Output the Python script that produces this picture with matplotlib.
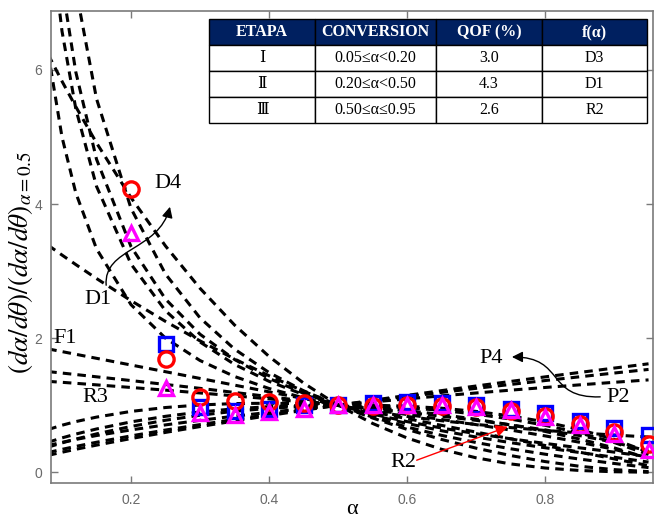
import matplotlib
matplotlib.use('Agg')
import matplotlib.pyplot as plt
from matplotlib.path import Path
from matplotlib.patches import FancyArrowPatch

plt.rcParams['mathtext.fontset'] = 'stix'

# ---------------- data ----------------
alpha_grid = [0.08, 0.10, 0.12, 0.15, 0.20, 0.25, 0.30, 0.35, 0.40, 0.45,
              0.50, 0.55, 0.60, 0.65, 0.70, 0.75, 0.80, 0.85, 0.90, 0.95]

F1 = [1.84, 1.80, 1.76, 1.70, 1.60, 1.50, 1.40, 1.30, 1.20, 1.10,
      1.00, 0.90, 0.80, 0.70, 0.60, 0.50, 0.40, 0.30, 0.20, 0.10]
F2 = [3.386, 3.24, 3.098, 2.89, 2.56, 2.25, 1.96, 1.69, 1.44, 1.21,
      1.00, 0.81, 0.64, 0.49, 0.36, 0.25, 0.16, 0.09, 0.04, 0.01]
F3 = [6.23, 5.832, 5.452, 4.913, 4.096, 3.375, 2.744, 2.197, 1.728, 1.331,
      1.00, 0.729, 0.512, 0.343, 0.216, 0.125, 0.064, 0.027, 0.008, 0.001]
R2 = [1.356, 1.342, 1.327, 1.304, 1.265, 1.225, 1.183, 1.140, 1.095, 1.049,
      1.00, 0.949, 0.894, 0.837, 0.775, 0.707, 0.632, 0.548, 0.447, 0.316]
R3 = [1.502, 1.480, 1.458, 1.424, 1.368, 1.310, 1.252, 1.191, 1.129, 1.066,
      1.00, 0.932, 0.862, 0.788, 0.711, 0.630, 0.543, 0.448, 0.342, 0.215]
P2 = [0.400, 0.447, 0.490, 0.548, 0.632, 0.707, 0.775, 0.837, 0.894, 0.949,
      1.00, 1.049, 1.095, 1.140, 1.183, 1.225, 1.265, 1.304, 1.342, 1.378]
P3 = [0.295, 0.342, 0.386, 0.448, 0.543, 0.630, 0.711, 0.788, 0.862, 0.932,
      1.00, 1.066, 1.129, 1.191, 1.252, 1.310, 1.368, 1.424, 1.480, 1.534]
P4 = [0.253, 0.299, 0.343, 0.405, 0.503, 0.595, 0.682, 0.765, 0.846, 0.924,
      1.00, 1.074, 1.147, 1.218, 1.287, 1.355, 1.423, 1.489, 1.554, 1.618]
A2 = [0.638, 0.702, 0.756, 0.823, 0.908, 0.966, 1.004, 1.025, 1.030, 1.022,
      1.00, 0.966, 0.920, 0.861, 0.791, 0.707, 0.610, 0.496, 0.365, 0.208]
A3 = [0.448, 0.513, 0.570, 0.646, 0.752, 0.835, 0.899, 0.947, 0.979, 0.997,
      1.00, 0.989, 0.964, 0.923, 0.867, 0.794, 0.701, 0.587, 0.445, 0.265]
A4 = [0.376, 0.438, 0.495, 0.573, 0.684, 0.776, 0.851, 0.910, 0.954, 0.984,
      1.00, 1.001, 0.986, 0.956, 0.908, 0.841, 0.752, 0.638, 0.492, 0.300]
D1 = [6.25, 5.00, 4.167, 3.333, 2.50, 2.00, 1.667, 1.429, 1.25, 1.111,
      1.00, 0.909, 0.833, 0.769, 0.714, 0.667, 0.625, 0.588, 0.556, 0.526]
D2 = [8.313, 6.579, 5.422, 4.265, 3.106, 2.409, 1.943, 1.609, 1.357, 1.159,
      1.00, 0.868, 0.756, 0.660, 0.576, 0.500, 0.431, 0.365, 0.301, 0.231]
D3 = [11.30, 8.844, 7.207, 5.572, 3.936, 2.956, 2.303, 1.837, 1.488, 1.216,
      1.00, 0.823, 0.675, 0.551, 0.444, 0.351, 0.270, 0.197, 0.132, 0.070]
D4 = [9.223, 7.272, 5.970, 4.669, 3.366, 2.583, 2.059, 1.683, 1.400, 1.179,
      1.00, 0.852, 0.728, 0.620, 0.526, 0.442, 0.366, 0.295, 0.225, 0.152]

models = [F1, F2, F3, R2, R3, P2, P3, P4, A2, A3, A4, D1, D2, D3, D4]

alpha_exp = [0.20, 0.25, 0.30, 0.35, 0.40, 0.45, 0.50, 0.55, 0.60, 0.65,
             0.70, 0.75, 0.80, 0.85, 0.90, 0.95]
alpha_blue = [0.25, 0.30, 0.35, 0.40, 0.45, 0.50, 0.55, 0.60, 0.65,
              0.70, 0.75, 0.80, 0.85, 0.90, 0.95]
blue_sq = [1.92, 0.98, 0.92, 0.95, 1.00, 1.00, 1.04, 1.05, 1.03,
           1.00, 0.95, 0.88, 0.77, 0.66, 0.55]
red_circ = [4.22, 1.69, 1.13, 1.06, 1.05, 1.03, 1.00, 0.99, 1.00, 0.99,
            0.97, 0.92, 0.84, 0.72, 0.60, 0.42]
mag_tri = [3.57, 1.25, 0.88, 0.86, 0.90, 0.95, 1.00, 1.00, 1.00, 1.00,
           0.98, 0.93, 0.83, 0.70, 0.57, 0.33]

table_header = ['ETAPA', 'CONVERSION', 'QOF (%)', 'f(α)']
table_rows = [['Ⅰ', '0.05≤α<0.20', '3.0', 'D3'],
              ['Ⅱ', '0.20≤α<0.50', '4.3', 'D1'],
              ['Ⅲ', '0.50≤α≤0.95', '2.6', 'R2']]

xticks = [0.2, 0.4, 0.6, 0.8]
yticks = [0, 2, 4, 6]

# ---------------- figure ----------------
fig = plt.figure(figsize=(6.54, 5.2), dpi=100)
ax = fig.add_axes([0.0775, 0.0706, 0.921, 0.9088])

for vals in models:
    ax.plot(alpha_grid, vals, color='black', lw=2.2,
            linestyle=(0, (2.8, 2.0)), zorder=2)

mk = dict(ls='none', mfc='none', mew=2.4, zorder=4)
ax.plot(alpha_blue, blue_sq, 's', mec='#0000ff', ms=10.5, **mk)
ax.plot(alpha_exp, red_circ, 'o', mec='#ff0000', ms=11, **mk)
ax.plot(alpha_exp, mag_tri, '^', mec='#ff00ff', ms=9.5, **mk)

ax.set_xlim(0.0836, 0.9565)
ax.set_ylim(-0.164, 6.884)
ax.set_xticks(xticks)
ax.set_xticklabels([f'{t:.1f}' for t in xticks])
ax.set_yticks(yticks)
gray = '#7a7a7a'
ax.tick_params(direction='in', length=5, width=1, color=gray, labelcolor='#6a6a6a',
               labelsize=10, top=True, right=True)
ax.tick_params(axis='x', pad=7)
ax.tick_params(axis='y', pad=6)
for lab in ax.get_xticklabels() + ax.get_yticklabels():
    lab.set_fontfamily('Liberation Sans')
for sp in ax.spines.values():
    sp.set_color(gray)
    sp.set_linewidth(1.2)

ax.set_ylabel(r'$(d\alpha/d\theta)/(d\alpha/d\theta)_{\alpha=0.5}$', fontsize=19.5)
ax.yaxis.set_label_coords(-0.026, 0.468)
ax.set_xlabel('α', fontsize=16, family='Liberation Serif', labelpad=-5)

serif = ['Liberation Serif', 'DejaVu Serif']
txt = dict(fontsize=16, family=serif, ha='center', va='center', zorder=6)
ax.text(0.254, 4.30, 'D4', **txt)
ax.text(0.152, 2.57, 'D1', **txt)
ax.text(0.105, 2.00, 'F1', **txt)
ax.text(0.148, 1.11, 'R3', **txt)
ax.text(0.722, 1.70, 'P4', **txt)
ax.text(0.906, 1.12, 'P2', **txt)
ax.text(0.594, 0.14, 'R2', **txt)

# curved arrows
p1 = Path([(0.164, 2.79), (0.160, 3.35), (0.24, 3.30), (0.2565, 3.96)],
          [Path.MOVETO, Path.CURVE4, Path.CURVE4, Path.CURVE4])
ax.add_patch(FancyArrowPatch(path=p1, arrowstyle='-|>', mutation_scale=16,
                             color='black', lw=1.0, zorder=6))
p2 = Path([(0.880, 1.125), (0.80, 1.10), (0.83, 1.72), (0.752, 1.72)],
          [Path.MOVETO, Path.CURVE4, Path.CURVE4, Path.CURVE4])
ax.add_patch(FancyArrowPatch(path=p2, arrowstyle='-|>', mutation_scale=16,
                             color='black', lw=1.0, zorder=6))
ax.annotate('', xy=(0.746, 0.68), xytext=(0.614, 0.18),
            arrowprops=dict(arrowstyle='-|>', color='red', lw=1.0,
                            mutation_scale=18, shrinkA=0, shrinkB=0), zorder=6)

# table
tab = ax.table(cellText=table_rows, colLabels=table_header, cellLoc='center',
               colWidths=[0.242, 0.276, 0.242, 0.240],
               bbox=[0.263, 0.7624, 0.727, 0.22], zorder=8)
tab.auto_set_font_size(False)
tab.set_fontsize(11.5)
for (r, c), cell in tab.get_celld().items():
    cell.set_edgecolor('black')
    cell.set_linewidth(1.0)
    t = cell.get_text()
    t.set_fontfamily(serif)
    if r == 0:
        cell.set_facecolor('#002060')
        t.set_color('white')
        t.set_fontweight('bold')
    else:
        cell.set_facecolor('white')
        t.set_color('black')

fig.savefig('out.png', dpi=100)
